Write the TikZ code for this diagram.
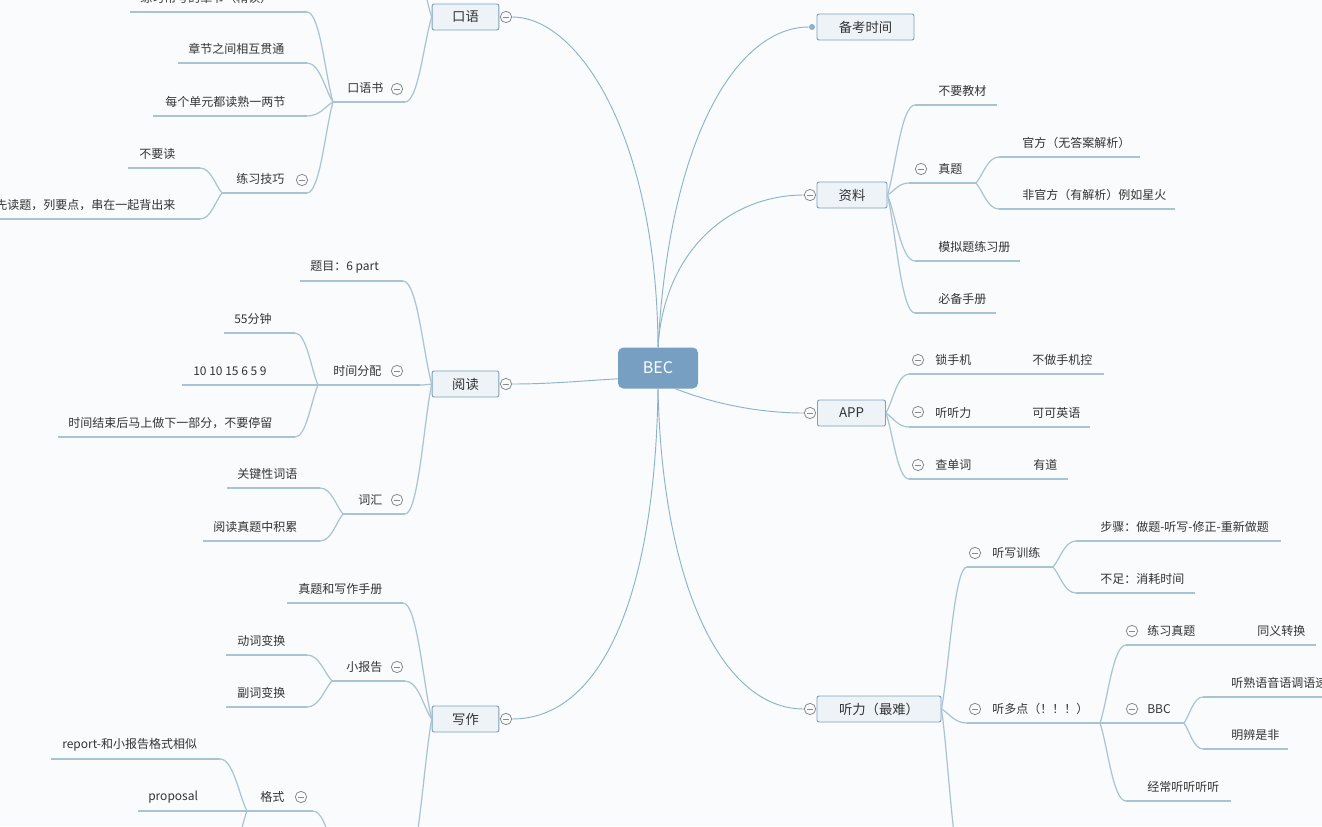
\documentclass[tikz,border=0pt]{standalone}
\usepackage{fontspec}
\setmainfont{Noto Sans CJK SC}
\usetikzlibrary{calc}
\definecolor{bg}{HTML}{FAFBFC}
\definecolor{branch}{HTML}{8FB2CB}
\definecolor{under}{HTML}{A9C2D4}
\definecolor{boxfill}{HTML}{EEF3F8}
\definecolor{boxline}{HTML}{7E9FBA}
\definecolor{rootfill}{HTML}{769FC1}
\definecolor{ink}{HTML}{333333}
\definecolor{foldc}{HTML}{8A8A8A}
\tikzset{
	root/.style   = {fill=rootfill, rounded corners=4pt, minimum width=60pt,
		minimum height=30.75pt, text=white, font=\fontsize{12}{14}\selectfont},
	topic/.style  = {draw=boxline, fill=boxfill, rounded corners=1.5pt, line width=0.7pt,
		minimum height=19.5pt, text=ink, font=\fontsize{10}{12}\selectfont},
	leaf/.style   = {inner sep=0pt, text=ink, font=\fontsize{9}{11}\selectfont},
	fold/.style   = {circle, draw=foldc, line width=0.6pt, minimum size=8.5pt, inner sep=0pt,
		path picture={\draw[foldc, line width=0.7pt]
			([xshift=-2.6pt]path picture bounding box.center) --
			([xshift=2.6pt]path picture bounding box.center);}},
	uline/.style  = {draw=under, line width=0.9pt},
	link/.style   = {draw=branch, line width=0.7pt},
	conn/.style   = {uline, to path={let \p1=(\tikztostart), \p2=(\tikztotarget) in
		.. controls ({\x1+0.3*(\x2-\x1)},{\y1+0.3*(\y2-\y1)}) and ({\x1+0.5*(\x2-\x1)},\y2)
		.. (\tikztotarget)}}
}
% name, west x, east x, line y, text x, text
\newcommand{\twig}[6]{%
	\coordinate (#1-w) at (#2,#4);
	\coordinate (#1-e) at (#3,#4);
	\draw[uline] (#1-w) -- (#1-e);
	\node[leaf, anchor=west] (#1) at (#5,#4-14) {#6};}

\begin{document}
\begin{tikzpicture}[x=0.75pt, y=-0.75pt]
	\fill[bg] (0,0) rectangle (1322,826);
	\useasboundingbox (0,0) rectangle (1322,826);

	% centre and main topics
	\node[root] (bec) at (658,368) {BEC};
	\node[topic, minimum width=72.75pt] (bk) at (865.5,27) {备考时间};
	\node[topic, minimum width=52.5pt] (zl) at (852,195) {资料};
	\node[topic, minimum width=51pt] (app) at (851.5,413) {APP};
	\node[topic, minimum width=93pt] (tl) at (879,709) {听力（最难）};
	\node[topic, minimum width=50pt] (ky) at (465.5,17) {口语};
	\node[topic, minimum width=50pt] (yd) at (465.5,384) {阅读};
	\node[topic, minimum width=50pt] (xz) at (465.5,719) {写作};

	\node[circle, fill=branch, inner sep=0pt, minimum size=4.5pt] (bk-dot) at (812,27) {};
	\node[fold] (zl-f) at (810,195) {};
	\node[fold] (app-f) at (810,413) {};
	\node[fold] (tl-f) at (810,709) {};
	\node[fold] (ky-f) at (506,17) {};
	\node[fold] (yd-f) at (506,384) {};
	\node[fold] (xz-f) at (506,719) {};

	\draw[link] (bec.north) .. controls (657,140) and (580,17) .. (ky-f);
	\draw[link] (bec.195) .. controls (580,381) and (550,384) .. (yd-f);
	\draw[link] (bec.south) .. controls (655,600) and (600,719) .. (xz-f);
	\draw[link] (bec.north) .. controls (670,130) and (740,27) .. (bk-dot);
	\draw[link] (bec.north) .. controls (664,250) and (730,195) .. (zl-f);
	\draw[link] (bec.-50) .. controls (720,406) and (765,413) .. (app-f);
	\draw[link] (bec.south) .. controls (662,580) and (720,709) .. (tl-f);

	% 资料
	\twig{bj}{915}{997}{105}{938}{不要教材}
	\twig{zt}{909}{976}{183}{938}{真题}
	\node[fold] (zt-f) at (921,169) {};
	\twig{gf}{999}{1140}{157}{1022}{官方（无答案解析）}
	\twig{fgf}{999}{1175}{209}{1022}{非官方（有解析）例如星火}
	\twig{mn}{915}{1020}{261}{938}{模拟题练习册}
	\twig{bb}{915}{996}{313}{938}{必备手册}
	\draw[conn] (zl.east) to (bj-w);
	\draw[conn] (zl.east) to (zt-w);
	\draw[conn] (zl.east) to (mn-w);
	\draw[conn] (zl.east) to (bb-w);
	\draw[conn] (zt-e) to (gf-w);
	\draw[conn] (zt-e) to (fgf-w);

	% APP
	\twig{ssj}{909}{1020}{374}{935}{锁手机}
	\node[fold] (ssj-f) at (918,360) {};
	\twig{bzs}{1020}{1104}{374}{1032}{不做手机控}
	\twig{tll}{909}{1020}{427}{935}{听听力}
	\node[fold] (tll-f) at (918,412) {};
	\twig{kk}{1020}{1090}{427}{1032}{可可英语}
	\twig{cdc}{909}{1020}{479}{935}{查单词}
	\node[fold] (cdc-f) at (918,465) {};
	\twig{ydao}{1020}{1068}{479}{1033}{有道}
	\draw[conn] (app.east) to (ssj-w);
	\draw[conn] (app.east) to (tll-w);
	\draw[conn] (app.east) to (cdc-w);

	% 听力
	\twig{txx}{967}{1053}{567}{992}{听写训练}
	\node[fold] (txx-f) at (975,553) {};
	\twig{bz}{1076}{1281}{541}{1100}{步骤：做题-听写-修正-重新做题}
	\twig{bzu}{1076}{1195}{593}{1100}{不足：消耗时间}
	\twig{tdd}{967}{1100}{723}{992}{听多点（！！！）}
	\node[fold] (tdd-f) at (975,709) {};
	\twig{lxzt}{1126}{1230}{645}{1147}{练习真题}
	\node[fold] (lxzt-f) at (1132,631) {};
	\twig{tyzh}{1230}{1316}{645}{1257}{同义转换}
	\twig{bbc}{1126}{1184}{723}{1147}{BBC}
	\node[fold] (bbc-f) at (1132,709) {};
	\twig{tsyy}{1203}{1330}{697}{1231}{听熟语音语调语速}
	\twig{mbsf}{1203}{1288}{749}{1231}{明辨是非}
	\twig{jcttt}{1126}{1231}{801}{1147}{经常听听听听}
	\coordinate (tl-more) at (966,880);
	\draw[conn] (tl.east) to (txx-w);
	\draw[conn] (tl.east) to (tdd-w);
	\draw[conn] (tl.east) to (tl-more);
	\draw[conn] (txx-e) to (bz-w);
	\draw[conn] (txx-e) to (bzu-w);
	\draw[conn] (tdd-e) to (lxzt-w);
	\draw[conn] (tdd-e) to (bbc-w);
	\draw[conn] (tdd-e) to (jcttt-w);
	\draw[conn] (bbc-e) to (tsyy-w);
	\draw[conn] (bbc-e) to (mbsf-w);

	% 口语
	\twig{kys}{333}{405}{102}{347}{口语书}
	\node[fold] (kys-f) at (397,89) {};
	\coordinate (ky-more) at (405,-60);
	\twig{cck}{130}{307}{12}{140}{练习常考的章节（精读）}
	\twig{zj}{178}{307}{63}{188}{章节之间相互贯通}
	\twig{mgdy}{153}{307}{116}{165}{每个单元都读熟一两节}
	\twig{lxjq}{222}{307}{193}{236}{练习技巧}
	\node[fold] (lxjq-f) at (302,180) {};
	\twig{byd}{128}{200}{168}{139}{不要读}
	\twig{xdt}{-10}{200}{219}{-5}{先读题，列要点，串在一起背出来}
	\draw[conn] (ky.west) to (kys-e);
	\draw[conn] (ky.west) to (ky-more);
	\draw[conn] (kys-w) to (cck-e);
	\draw[conn] (kys-w) to (zj-e);
	\draw[conn] (kys-w) to (mgdy-e);
	\draw[conn] (kys-w) to (lxjq-e);
	\draw[conn] (lxjq-w) to (byd-e);
	\draw[conn] (lxjq-w) to (xdt-e);

	% 阅读
	\twig{tm}{300}{403}{281}{310}{题目：6 part}
	\twig{sjfp}{318}{420}{385}{333}{时间分配}
	\node[fold] (sjfp-f) at (397,371) {};
	\twig{wwfz}{224}{295}{333}{234}{55分钟}
	\twig{sz}{182}{318}{385}{193}{10 10 15 6 5 9}
	\twig{sjjs}{58}{295}{437}{68}{时间结束后马上做下一部分，不要停留}
	\twig{ch}{343}{405}{514}{358}{词汇}
	\node[fold] (ch-f) at (397,500) {};
	\twig{gjx}{227}{320}{488}{237}{关键性词语}
	\twig{ydzt}{203}{320}{541}{213}{阅读真题中积累}
	\draw[conn] (yd.west) to (tm-e);
	\draw[conn] (yd.west) to (sjfp-e);
	\draw[conn] (yd.west) to (ch-e);
	\draw[conn] (sjfp-w) to (wwfz-e);
	\draw[conn] (sjfp-w) to (sjjs-e);
	\draw[conn] (ch-w) to (gjx-e);
	\draw[conn] (ch-w) to (ydzt-e);

	% 写作
	\twig{ztxz}{287}{403}{603}{298}{真题和写作手册}
	\twig{xbg}{332}{405}{681}{346}{小报告}
	\node[fold] (xbg-f) at (397,667) {};
	\twig{dcbh}{226}{307}{655}{237}{动词变换}
	\twig{fcbh}{226}{307}{707}{237}{副词变换}
	\coordinate (xz-more) at (403,880);
	\twig{gs}{247}{313}{811}{260}{格式}
	\node[fold] (gs-f) at (301,797) {};
	\twig{rp}{51}{220}{759}{62}{report-和小报告格式相似}
	\twig{pp}{138}{247}{811}{148}{proposal}
	\coordinate (gs-up) at (345,900);
	\coordinate (gs-more) at (220,880);
	\draw[conn] (xz.west) to (ztxz-e);
	\draw[conn] (xz.west) to (xbg-e);
	\draw[conn] (xz.west) to (xz-more);
	\draw[conn] (xbg-w) to (dcbh-e);
	\draw[conn] (xbg-w) to (fcbh-e);
	\draw[conn] (gs-up) to (gs-e);
	\draw[conn] (gs-w) to (rp-e);
	\draw[conn] (gs-w) to (gs-more);
\end{tikzpicture}
\end{document}
